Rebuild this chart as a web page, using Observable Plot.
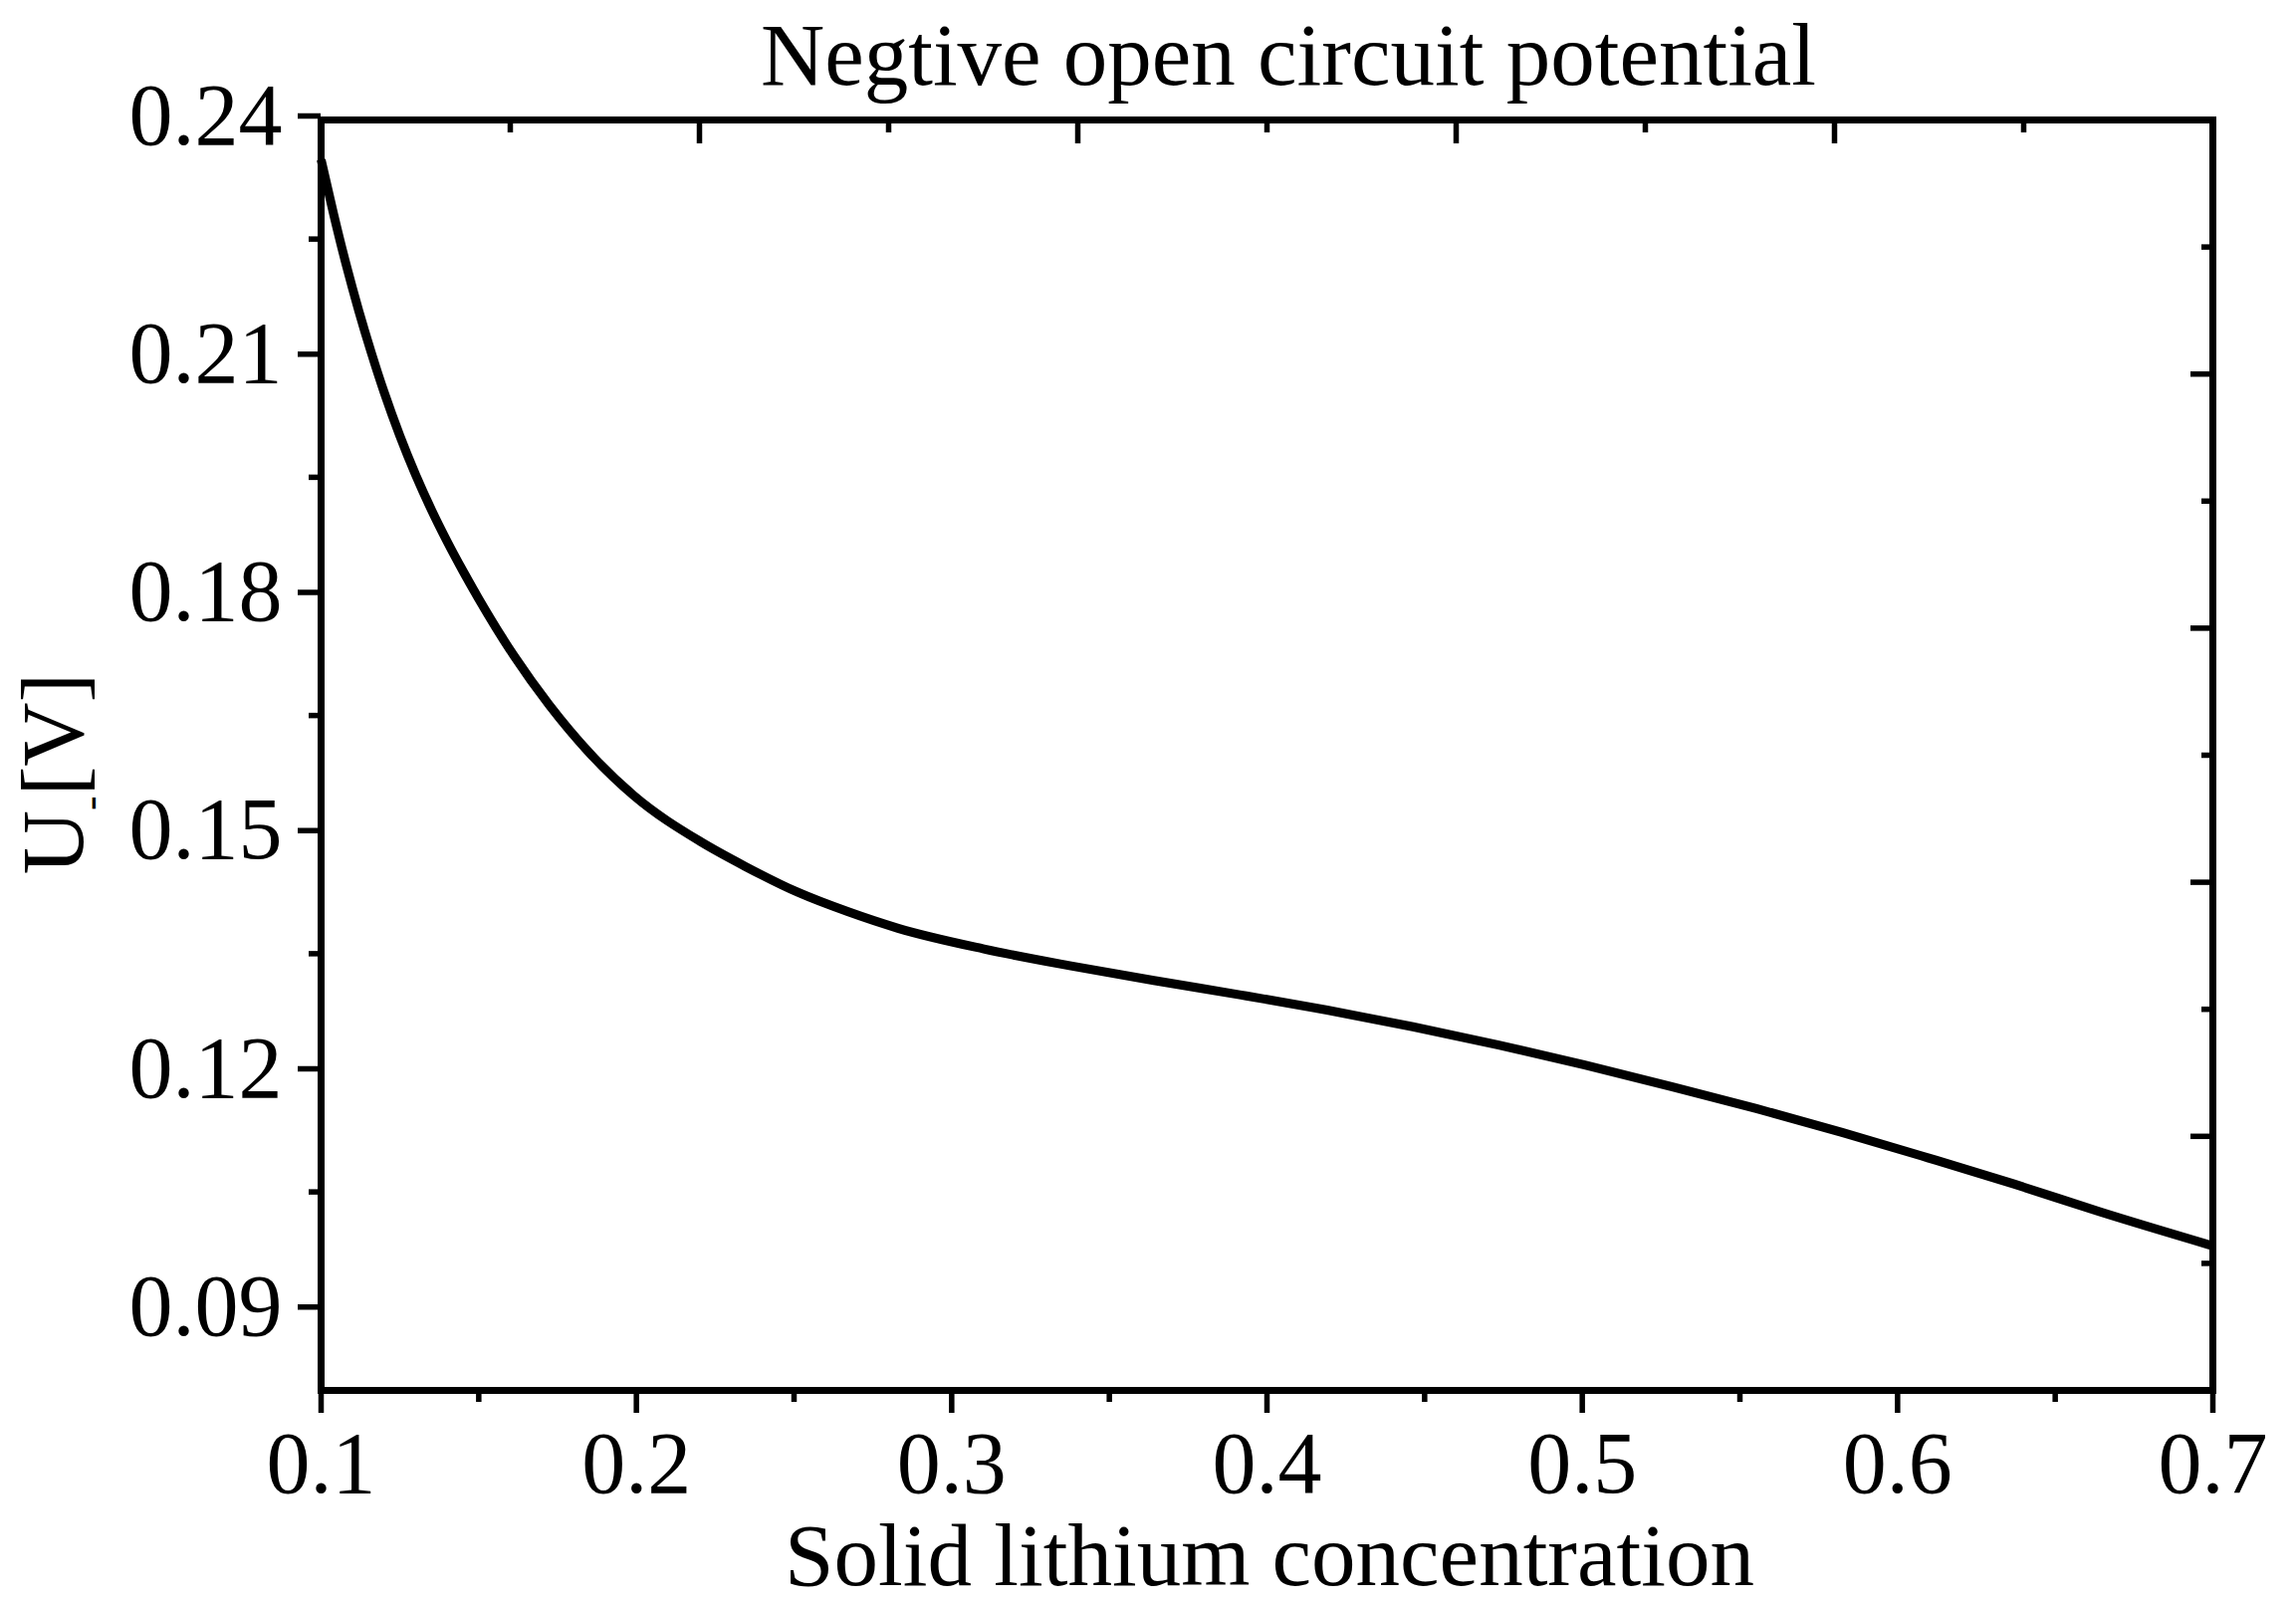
<!DOCTYPE html>
<html>
<head>
<meta charset="utf-8">
<script src="https://cdn.jsdelivr.net/npm/d3@7"></script>
<script src="https://cdn.jsdelivr.net/npm/@observablehq/plot@0.6"></script>
<style>
  html, body { margin: 0; padding: 0; background: #fff; }
  #chart { width: 2306px; height: 1611px; }
</style>
</head>
<body>
<div id="chart"></div>
<script>
// ---- data ----
const concentration = [0.100, 0.104, 0.108, 0.112, 0.116, 0.120, 0.125, 0.130, 0.135, 0.140, 0.145, 0.150, 0.1612, 0.1724, 0.1851, 0.1992, 0.2204, 0.2345, 0.2514, 0.267, 0.283, 0.3102, 0.3374, 0.3646, 0.3918, 0.4191, 0.4463, 0.4735, 0.5008, 0.528, 0.5552, 0.5824, 0.6096, 0.6369, 0.6641, 0.700];
const potential = [0.2350, 0.2281, 0.2217, 0.2159, 0.2106, 0.2057, 0.2002, 0.1953, 0.1909, 0.1869, 0.1832, 0.1797, 0.1725, 0.1663, 0.1603, 0.1549, 0.1491, 0.1460, 0.1427, 0.1403, 0.1382, 0.1356, 0.1335, 0.1316, 0.1298, 0.1279, 0.1258, 0.1235, 0.1210, 0.1183, 0.1155, 0.1125, 0.1093, 0.1060, 0.1025, 0.0982];

const xMajorTicks = [0.1, 0.2, 0.3, 0.4, 0.5, 0.6, 0.7];
const xMinorTicks = [0.15, 0.25, 0.35, 0.45, 0.55, 0.65];
const yMajorTicks = [0.09, 0.12, 0.15, 0.18, 0.21, 0.24];
const yMinorTicks = [0.105, 0.135, 0.165, 0.195, 0.225];
const topMajorTicks = [0.22, 0.34, 0.46, 0.58];
const topMinorTicks = [0.16, 0.28, 0.40, 0.52, 0.64];
const rightMajorTicks = [0.112, 0.144, 0.176, 0.208];
const rightMinorTicks = [0.096, 0.128, 0.160, 0.192, 0.224];

const titleText = "Negtive open circuit potential";
const xLabelText = "Solid lithium concentration";

const data = concentration.map((c, i) => ({c, u: potential[i]}));

const FONT = "Liberation Serif, Times New Roman, serif";
const MAJ = 23, MIN = 12, TW = 5.5;

const plot = Plot.plot({
  width: 2306,
  height: 1611,
  marginLeft: 322,
  marginRight: 84,
  marginTop: 120,
  marginBottom: 215,
  style: {fontFamily: FONT, fontSize: "88px", background: "#fff", color: "#000", overflow: "visible"},
  x: {domain: [0.1, 0.7]},
  y: {domain: [0.08, 0.24]},
  marks: [
    // bottom axis (outward)
    Plot.axisX(xMajorTicks, {anchor: "bottom", tickSize: MAJ, tickPadding: 17, strokeWidth: TW, fontSize: 88, tickFormat: d => String(d), label: null}),
    Plot.axisX(xMinorTicks, {anchor: "bottom", tickSize: MIN, strokeWidth: TW, tickFormat: () => "", label: null}),
    // top axis (inward)
    Plot.axisX(topMajorTicks, {anchor: "top", tickSize: MAJ, dy: MAJ, strokeWidth: TW, tickFormat: () => "", label: null}),
    Plot.axisX(topMinorTicks, {anchor: "top", tickSize: MIN, dy: MIN, strokeWidth: TW, tickFormat: () => "", label: null}),
    // left axis (outward)
    Plot.axisY(yMajorTicks, {anchor: "left", tickSize: MAJ, tickPadding: 16, strokeWidth: TW, fontSize: 88, dy: -4, tickFormat: d => d.toFixed(2), label: null}),
    Plot.axisY(yMinorTicks, {anchor: "left", tickSize: MIN, strokeWidth: TW, tickFormat: () => "", label: null}),
    // right axis (inward)
    Plot.axisY(rightMajorTicks, {anchor: "right", tickSize: MAJ, dx: -MAJ, strokeWidth: TW, tickFormat: () => "", label: null}),
    Plot.axisY(rightMinorTicks, {anchor: "right", tickSize: MIN, dx: -MIN, strokeWidth: TW, tickFormat: () => "", label: null}),
    Plot.line(data, {x: "c", y: "u", stroke: "#000", strokeWidth: 9, curve: "monotone-x", strokeLinecap: "butt"}),
    Plot.frame({stroke: "#000", strokeWidth: 7})
  ]
});

const svg = d3.select(plot);
svg.selectAll("text").attr("fill", "#000");

svg.append("text")
  .attr("x", 1294).attr("y", 85)
  .attr("text-anchor", "middle")
  .attr("font-family", FONT).attr("font-size", 89).attr("fill", "#000")
  .text(titleText);

svg.append("text")
  .attr("x", 1275).attr("y", 1592)
  .attr("text-anchor", "middle")
  .attr("font-family", FONT).attr("font-size", 89).attr("fill", "#000")
  .text(xLabelText);

const yl = svg.append("text")
  .attr("transform", "translate(83,777) rotate(-90)")
  .attr("text-anchor", "middle")
  .attr("font-family", FONT).attr("font-size", 89).attr("fill", "#000");
yl.append("tspan").text("U");
yl.append("tspan").attr("font-size", 44).attr("dy", 22).text("-");
yl.append("tspan").attr("dy", -22).text("[V]");

document.getElementById("chart").appendChild(plot);
</script>
</body>
</html>
